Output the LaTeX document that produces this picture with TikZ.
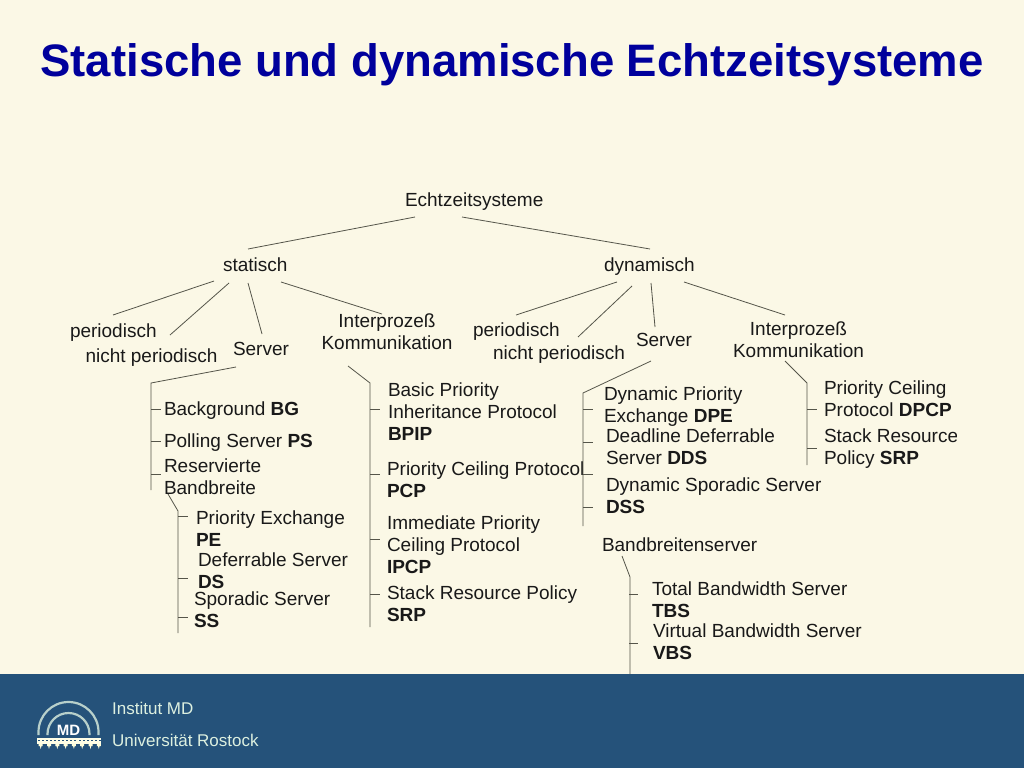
\documentclass[tikz,border=0pt]{standalone}
\usepackage{fontspec}
\setmainfont{Liberation Sans}
\definecolor{paper}{HTML}{FBF8E6}
\definecolor{bar}{HTML}{25527A}
\definecolor{titleblue}{HTML}{00009C}
\definecolor{footertext}{HTML}{DDF0E0}
\definecolor{treeline}{HTML}{55554A}
\tikzset{
  lbl/.style={anchor=north west,inner sep=0pt,outer sep=0pt,align=left,text=black!90,font=\fontsize{19}{22}\selectfont},
  ctr/.style={anchor=north,inner sep=0pt,outer sep=0pt,align=center,text=black!90,font=\fontsize{19}{22}\selectfont},
  conn/.style={draw=treeline,line width=0.8pt},
  foot/.style={anchor=north west,inner sep=0pt,text=footertext,font=\fontsize{17}{18}\selectfont},
}
\begin{document}
\begin{tikzpicture}[x=1pt,y=-1pt]
\useasboundingbox (0,0) rectangle (1024,768);
\fill[paper] (0,0) rectangle (1024,768);
\fill[bar] (0,674) rectangle (1024,768);

\node[anchor=base,inner sep=0pt,text=titleblue,font=\fontsize{45.5}{50}\selectfont\bfseries] (title) at (512,76) {Statische und dynamische Echtzeitsysteme};

% tree nodes
\node[lbl] (root) at (405,193) {Echtzeitsysteme};
\node[lbl] (stat) at (223,258) {statisch};
\node[lbl] (dyn) at (604,258) {dynamisch};
\node[lbl] (sper) at (70,323.5) {periodisch};
\node[lbl] (snper) at (85.5,348.5) {nicht periodisch};
\node[lbl] (sserv) at (233,342.5) {Server};
\node[ctr] (sipc) at (387,314) {Interproze\ss\\Kommunikation};
\node[lbl] (dper) at (473,323) {periodisch};
\node[lbl] (dnper) at (493,346) {nicht periodisch};
\node[lbl] (dserv) at (636,333) {Server};
\node[ctr] (dipc) at (798.5,322) {Interproze\ss\\Kommunikation};
\node[lbl] (bg) at (164,402) {Background \textbf{BG}};
\node[lbl] (ps) at (164,434) {Polling Server \textbf{PS}};
\node[lbl] (resv) at (164,459) {Reservierte\\Bandbreite};
\node[lbl] (pe) at (196,511) {Priority Exchange\\\textbf{PE}};
\node[lbl] (ds) at (198,553) {Deferrable Server\\\textbf{DS}};
\node[lbl] (ss) at (194,592) {Sporadic Server\\\textbf{SS}};
\node[lbl] (bpip) at (388,383) {Basic Priority\\Inheritance Protocol\\\textbf{BPIP}};
\node[lbl] (pcp) at (387,462) {Priority Ceiling Protocol\\\textbf{PCP}};
\node[lbl] (ipcp) at (387,516) {Immediate Priority\\Ceiling Protocol\\\textbf{IPCP}};
\node[lbl] (srp) at (387,586) {Stack Resource Policy\\\textbf{SRP}};
\node[lbl] (dpe) at (604,387) {Dynamic Priority\\Exchange \textbf{DPE}};
\node[lbl] (dds) at (606,429) {Deadline Deferrable\\Server \textbf{DDS}};
\node[lbl] (dss) at (606,478) {Dynamic Sporadic Server\\\textbf{DSS}};
\node[lbl] (bws) at (602,538) {Bandbreitenserver};
\node[lbl] (tbs) at (652,582) {Total Bandwidth Server\\\textbf{TBS}};
\node[lbl] (vbs) at (653,624) {Virtual Bandwidth Server\\\textbf{VBS}};
\node[lbl] (dpcp) at (824,381) {Priority Ceiling\\Protocol \textbf{DPCP}};
\node[lbl] (dsrp) at (824,429) {Stack Resource\\Policy \textbf{SRP}};

% connector end points
\foreach \n/\x/\y in {
 r1/415/217, r2/462/217, st/248/249, dy/650/249,
 s1/214/281, s2/229/283, s3/248/283, s4/281/282,
 s1e/113/315, s2e/170/335, s3e/262/334, s4e/382/314,
 d1/617/282, d2/632/286, d3/651/283, d4/684/282,
 d1e/516/315, d2e/578/337, d3e/655/327, d4e/785/315,
 a0/236/367, a1/151/383, a2/151/490,
 b0/168/494, b1/178/511, b2/178/633,
 c0/348/366, c1/370/383, c2/370/627,
 e0/651/361, e1/583/393, e2/583/526,
 f0/785/361, f1/807/383, f2/807/465,
 g0/622/556, g1/630/577, g2/630/674,
 ta1/151/409, ta1e/161/409, ta2/151/441, ta2e/161/441, ta3/151/474, ta3e/161/474,
 tb1/178/516, tb1e/188/516, tb2/178/578, tb2e/188/578, tb3/178/617, tb3e/188/617,
 tc1/370/409, tc1e/380/409, tc2/370/474, tc2e/380/474, tc3/370/539, tc3e/380/539, tc4/370/594, tc4e/380/594,
 te1/583/409, te1e/593/409, te2/583/442, te2e/593/442, te3/583/474, te3e/593/474, te4/583/507, te4e/593/507,
 tf1/807/409, tf1e/817/409, tf2/807/448, tf2e/817/448,
 tg1/629/594, tg1e/638/594, tg2/629/643, tg2e/638/643}
 {\coordinate (\n) at (\x,\y);}

\draw[conn] (r1) -- (st);
\draw[conn] (r2) -- (dy);
\draw[conn] (s1) -- (s1e);
\draw[conn] (s2) -- (s2e);
\draw[conn] (s3) -- (s3e);
\draw[conn] (s4) -- (s4e);
\draw[conn] (d1) -- (d1e);
\draw[conn] (d2) -- (d2e);
\draw[conn] (d3) -- (d3e);
\draw[conn] (d4) -- (d4e);
\draw[conn] (a0) -- (a1) -- (a2);
\draw[conn] (b0) -- (b1) -- (b2);
\draw[conn] (c0) -- (c1) -- (c2);
\draw[conn] (e0) -- (e1) -- (e2);
\draw[conn] (f0) -- (f1) -- (f2);
\draw[conn] (g0) -- (g1) -- (g2);
\foreach \t in {ta1,ta2,ta3,tb1,tb2,tb3,tc1,tc2,tc3,tc4,te1,te2,te3,te4,tf1,tf2,tg1,tg2}
  \draw[conn] (\t) -- (\t e);

% the reference crops the last letter of "Stack Resource"
\fill[paper] (956.5,425) rectangle (975,450);

% footer
\node[foot] (inst) at (112,702) {Institut MD};
\node[foot] (uni) at (112,734) {Universität Rostock};

% logo
\begin{scope}[shift={(68.5,735)},y=1pt]
  \draw[footertext!80!bar,line width=2.2pt] (-30,0) -- (-30,3) arc (180:0:30) -- (30,0);
  \draw[footertext!80!bar,line width=2.2pt] (-21,0) -- (-21,1) arc (180:0:21) -- (21,0);
  \node[inner sep=0pt,text=white,font=\fontsize{15}{16}\selectfont\bfseries] (md) at (0,5) {MD};
  \fill[white!90!yellow] (-32,-3) rectangle (32,-9);
  \foreach \i in {0,...,15}{
    \fill[bar] ({-31+\i*4.1},-4.5) rectangle ++(2,-1.2);
  }
  \foreach \i in {0,...,7}{
    \fill[white!85!yellow] ({-29.8+\i*8.3},-9) -- ++(4,0) -- ++(0,-2) -- ++(-1.2,0) -- ++(-0.8,-3) -- ++(-0.8,3) -- ++(-1.2,0) -- cycle;
  }
\end{scope}
\end{tikzpicture}
\end{document}
